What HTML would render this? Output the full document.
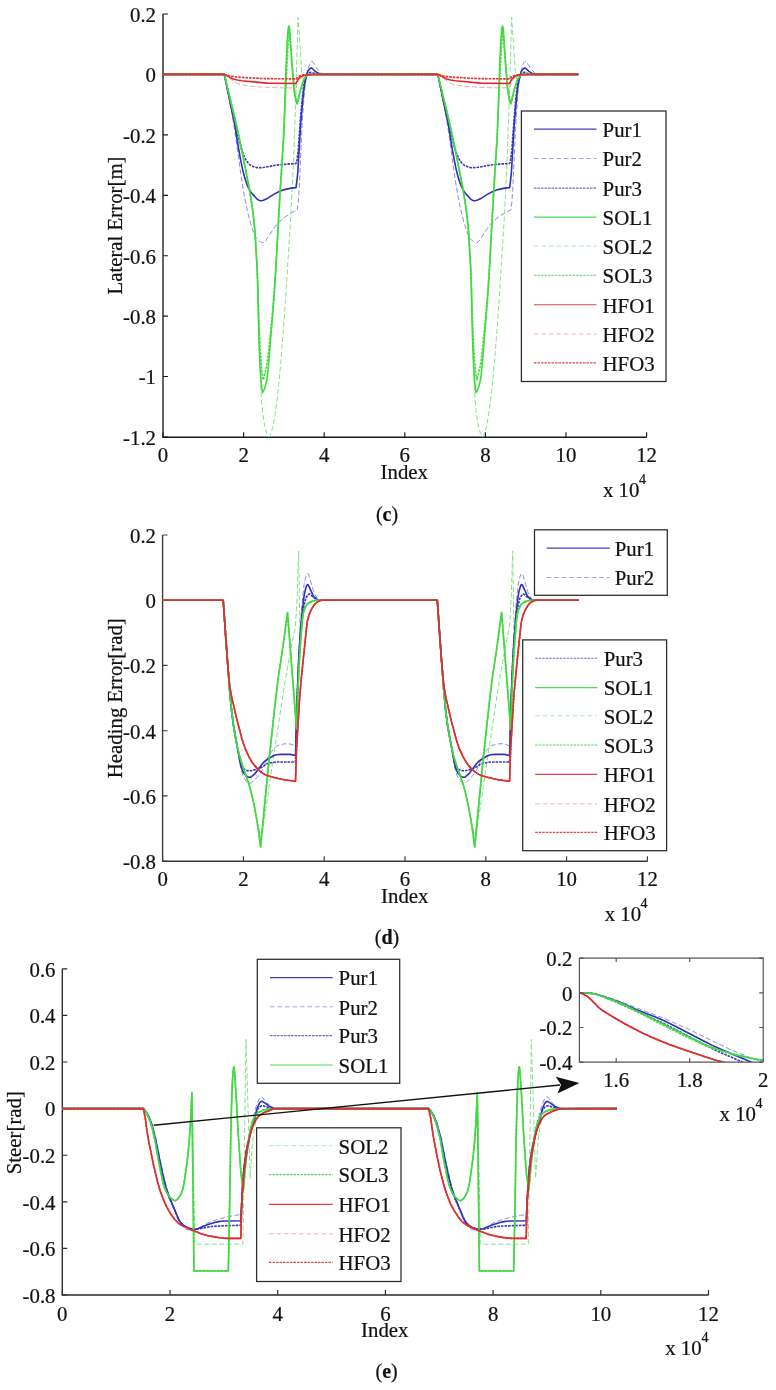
<!DOCTYPE html>
<html><head><meta charset="utf-8"><style>
html,body{margin:0;padding:0;background:#fff;width:776px;height:1390px;overflow:hidden}
svg{display:block;will-change:transform}
text{font-family:"Liberation Serif", serif;fill:#111;stroke:#111;stroke-width:0.22px}
</style></head><body>
<svg width="776" height="1390" viewBox="0 0 776 1390">
<path d="M163 14.0V437.2H646.6" fill="none" stroke="#1a1a1a" stroke-width="1.35"/>
<path d="M163 14.0h5M163 74.4h5M163 134.8h5M163 195.3h5M163 255.7h5M163 316.1h5M163 376.5h5M163 437.0h5M163.0 437.2v-5M243.6 437.2v-5M324.2 437.2v-5M404.8 437.2v-5M485.4 437.2v-5M566.0 437.2v-5M646.6 437.2v-5" fill="none" stroke="#1a1a1a" stroke-width="1.15"/>
<g>
<path d="M163.0 74.4L224.3 74.4L228.4 94.3L232.2 113.9L235.7 136.9L240.1 169.0L242.1 182.9L244.9 199.0L247.5 211.3L250.7 223.7L253.4 232.1L255.2 236.4L256.3 238.3L259.1 240.9L261.2 242.3L262.9 242.7L264.2 242.2L265.7 240.7L274.9 226.7L276.8 224.4L279.5 221.6L283.6 218.1L288.3 214.8L292.9 212.0L297.2 210.1L298.2 202.6L299.1 190.5L301.9 128.4L303.5 103.8L304.8 87.6L305.7 79.2L307.5 71.0L309.5 64.5L310.4 62.5L311.2 61.6L312.0 61.5L313.0 62.2L316.5 67.9L320.4 72.2L322.3 73.8L324.0 74.4L437.8 74.4L442.0 94.3L445.7 113.9L449.3 136.9L453.6 169.0L455.7 182.9L458.5 199.0L461.1 211.3L464.3 223.7L467.0 232.1L468.8 236.4L469.9 238.3L472.7 240.9L474.6 242.2L476.4 242.7L477.7 242.3L479.1 240.9L488.5 226.7L490.4 224.4L493.1 221.6L497.2 218.1L501.8 214.8L506.5 212.0L510.8 210.1L511.8 202.6L512.7 190.5L515.5 128.4L518.2 89.3L519.2 80.3L520.0 75.9L522.1 67.4L523.0 64.5L524.0 62.5L524.7 61.7L525.1 61.4L525.6 61.5L526.3 61.9L527.2 63.1L530.5 68.3L534.8 72.9L536.1 73.9L537.2 74.3L578.3 74.4" fill="none" stroke="#7c80dc" stroke-width="0.9" stroke-dasharray="5 2.5" stroke-linejoin="round"/>
<path d="M163.0 74.4L224.3 74.4L234.6 117.0L239.2 137.8L248.9 186.4L251.5 202.0L253.1 213.6L254.4 225.5L255.2 235.2L257.0 266.1L257.6 283.9L259.1 342.0L260.5 382.7L261.2 395.5L262.6 412.0L264.1 422.6L265.5 428.9L266.8 433.4L267.9 436.1L268.4 436.7L269.0 437.0L270.0 435.6L270.9 433.4L273.2 425.6L274.8 416.6L276.9 401.5L278.8 383.8L281.2 357.8L284.8 310.6L290.3 224.4L293.3 165.7L295.7 99.6L298.0 17.3L300.1 45.4L301.7 71.8L302.0 74.4L302.8 78.0L303.5 79.9L304.0 80.4L304.5 80.3L304.9 79.7L307.0 75.4L307.5 74.7L308.0 74.4L437.8 74.4L448.2 117.0L452.8 137.8L462.5 186.4L465.1 202.0L466.7 213.6L468.0 225.5L468.8 235.2L470.6 266.1L471.2 283.9L472.7 342.0L474.1 382.7L474.8 395.5L476.2 412.0L477.7 422.6L479.1 428.9L480.4 433.4L481.5 436.1L482.0 436.7L482.5 437.0L483.4 435.9L484.4 433.8L486.6 426.3L488.2 417.6L490.3 402.8L492.3 385.4L494.7 359.6L498.4 310.6L503.9 224.4L506.9 165.7L509.3 99.6L511.6 17.3L513.7 45.4L515.3 71.8L515.6 74.4L516.3 77.4L516.9 79.5L517.4 80.3L517.9 80.4L518.4 79.9L520.6 75.4L521.1 74.7L521.6 74.4L578.3 74.4" fill="none" stroke="#88e088" stroke-width="1.0" stroke-dasharray="5 2.5" stroke-linejoin="round"/>
<path d="M163.0 74.4L224.3 74.4L236.5 83.2L238.4 84.0L243.3 85.1L252.0 86.3L264.4 87.2L275.7 87.7L296.0 88.0L297.6 83.6L298.7 81.2L300.3 79.0L302.1 77.1L303.6 76.1L305.5 75.5L308.6 74.7L311.3 74.4L437.8 74.4L450.1 83.2L452.0 84.0L456.9 85.1L465.6 86.3L478.0 87.2L489.3 87.7L509.6 88.0L511.0 84.0L512.2 81.5L514.7 78.0L516.0 76.8L517.2 76.1L521.7 74.8L525.5 74.4L578.3 74.4" fill="none" stroke="#eba0a0" stroke-width="0.9" stroke-dasharray="5 2.5" stroke-linejoin="round"/>
<path d="M163.0 74.4L224.3 74.4L234.6 123.7L238.3 147.0L240.4 158.7L242.5 169.1L244.4 176.6L245.9 181.3L247.3 185.3L248.9 188.7L250.9 191.9L252.5 194.1L256.8 198.8L258.8 200.2L260.5 200.7L262.0 200.6L263.4 200.2L267.9 198.2L273.7 194.4L278.7 191.8L282.3 190.3L284.5 189.6L289.9 188.4L293.1 187.9L296.0 187.7L296.8 181.9L297.8 172.3L300.7 123.9L302.3 105.0L303.7 91.0L304.9 83.2L307.0 73.5L308.1 70.8L309.5 69.0L310.7 68.2L311.5 68.1L312.1 68.3L315.0 71.2L318.2 73.1L320.2 74.0L321.9 74.4L437.8 74.4L448.2 123.7L451.9 147.0L454.0 158.7L456.1 169.1L458.0 176.6L459.4 181.3L460.9 185.3L462.5 188.7L464.4 191.9L466.1 194.1L470.4 198.8L472.3 200.2L474.1 200.7L475.6 200.6L477.0 200.2L481.5 198.2L487.3 194.4L492.3 191.8L495.9 190.3L498.1 189.6L503.5 188.4L506.7 187.9L509.6 187.7L510.4 181.9L511.4 172.3L514.1 126.2L516.8 95.2L518.1 85.1L519.7 76.7L521.0 72.1L521.5 71.0L522.5 69.7L524.1 68.3L524.7 68.1L525.4 68.2L526.2 68.7L528.9 71.4L532.8 73.6L534.1 74.1L535.4 74.4L578.3 74.4" fill="none" stroke="#3030b8" stroke-width="1.6" stroke-linejoin="round"/>
<path d="M163.0 74.4L224.3 74.4L232.8 115.1L240.4 145.4L243.3 154.5L244.6 157.5L246.0 160.0L248.0 162.8L249.7 164.6L251.3 165.6L254.7 167.0L257.1 167.6L259.4 167.8L264.4 167.3L276.6 165.1L287.3 164.1L296.0 163.5L296.5 162.2L297.0 159.9L298.2 150.8L300.7 115.5L302.6 95.3L303.9 84.8L304.7 80.9L306.5 76.7L308.2 73.8L309.2 72.8L310.0 72.4L311.9 72.5L316.3 74.1L318.1 74.4L437.8 74.4L446.4 115.1L454.0 145.4L456.9 154.5L458.2 157.5L459.6 160.0L461.5 162.8L463.3 164.6L464.9 165.6L468.3 167.0L470.7 167.6L472.8 167.8L478.0 167.3L490.2 165.1L500.9 164.1L509.6 163.5L510.1 162.2L510.5 159.9L511.8 150.8L514.3 115.5L516.2 95.3L517.3 85.9L518.1 81.5L518.9 79.2L520.9 75.2L522.6 72.9L523.6 72.4L524.9 72.4L529.9 74.1L531.7 74.4L578.3 74.4" fill="none" stroke="#3838b0" stroke-width="1.6" stroke-dasharray="2.6 1" stroke-linejoin="round"/>
<path d="M163.0 74.4L224.3 74.4L234.7 117.7L239.4 138.6L249.1 187.3L251.7 203.0L253.3 215.0L254.4 225.5L255.2 235.2L257.0 266.1L257.6 283.9L258.9 337.4L259.9 363.8L261.0 380.4L261.8 388.2L262.5 392.6L263.2 391.7L264.0 390.0L265.4 385.9L266.6 381.1L267.5 375.2L268.5 365.4L274.1 296.5L275.9 267.9L279.8 196.6L283.5 138.4L284.3 119.4L285.8 73.4L287.4 38.2L288.2 28.5L288.8 26.1L289.0 26.1L289.1 26.4L289.6 28.6L290.1 33.5L291.9 64.1L293.8 88.2L294.5 93.0L295.7 100.1L296.6 103.1L297.2 104.0L300.9 88.7L303.3 81.2L304.5 78.7L305.6 77.1L307.2 75.2L308.5 74.5L437.8 74.4L448.3 117.7L453.0 138.6L462.7 187.3L465.2 203.0L466.9 215.0L468.0 225.5L468.8 235.2L470.6 266.1L471.2 283.9L472.5 337.4L473.5 363.8L474.6 380.4L475.4 388.2L476.1 392.6L476.8 391.7L477.6 390.0L479.0 385.9L480.2 381.1L481.1 375.2L482.1 365.4L487.7 296.5L489.5 267.9L493.4 196.6L496.9 141.5L497.7 124.0L499.8 62.1L501.0 38.2L501.6 29.9L502.1 27.0L502.4 26.1L502.6 26.1L502.7 26.4L503.2 28.6L503.5 31.6L505.5 64.1L507.4 88.2L509.2 99.4L510.0 102.6L510.6 103.9L510.8 104.0L514.7 88.1L516.9 81.2L517.7 79.3L518.5 77.9L520.3 75.7L521.8 74.6L522.6 74.4L578.3 74.4" fill="none" stroke="#3ddc3d" stroke-width="1.6" stroke-linejoin="round"/>
<path d="M163.0 74.4L224.3 74.4L234.4 116.3L239.1 137.0L248.9 186.4L251.2 199.9L252.8 211.1L254.1 222.2L254.9 231.1L257.1 267.7L257.8 282.0L258.9 322.2L260.4 352.9L261.8 370.9L262.6 376.7L263.3 379.9L266.4 366.9L267.4 361.4L268.3 354.4L271.7 321.7L274.3 290.9L276.1 263.2L280.0 194.3L283.7 135.5L286.6 71.3L288.9 29.1L291.8 60.2L294.3 88.7L294.7 92.3L296.2 99.6L297.0 102.1L297.6 102.8L300.3 90.6L303.4 81.0L304.5 78.5L305.8 76.7L307.3 75.2L308.6 74.4L437.8 74.4L448.0 116.3L452.7 137.0L462.5 186.4L464.8 199.9L466.4 211.1L467.7 222.2L468.5 231.1L470.7 267.7L471.4 282.0L472.5 322.2L474.0 352.9L475.4 370.9L476.2 376.7L476.9 379.9L480.0 366.9L481.0 361.4L481.9 354.4L485.3 321.7L487.9 290.9L489.7 263.2L493.5 194.3L497.2 135.5L500.1 71.3L502.5 29.1L505.4 60.2L507.8 88.7L508.3 92.3L509.6 98.9L510.4 101.7L511.1 102.8L511.2 102.8L514.1 90.0L517.0 81.0L518.0 78.8L518.9 77.4L520.5 75.5L521.8 74.5L522.5 74.4L578.3 74.4" fill="none" stroke="#45d845" stroke-width="1.6" stroke-dasharray="2.6 1" stroke-linejoin="round"/>
<path d="M163.0 74.4L224.3 74.4L230.2 77.6L233.1 78.9L237.2 80.0L241.7 80.8L267.0 83.1L296.0 83.5L298.1 79.3L299.5 77.8L301.0 76.7L303.1 75.8L305.8 75.0L307.6 74.7L310.8 74.6L323.4 74.4L437.8 74.4L443.8 77.6L446.7 78.9L450.7 80.0L455.3 80.8L480.6 83.1L509.6 83.5L511.5 79.6L513.6 77.4L514.9 76.5L516.2 76.0L518.4 75.2L520.5 74.8L534.4 74.4L578.3 74.4" fill="none" stroke="#e02828" stroke-width="1.6" stroke-linejoin="round"/>
<path d="M163.0 74.4L224.3 74.4L229.3 75.8L233.9 76.6L238.3 77.1L248.4 77.8L265.7 78.6L296.0 78.9L298.7 76.5L302.4 75.0L304.0 74.7L312.8 74.5L437.8 74.4L442.8 75.8L447.5 76.6L451.9 77.1L462.0 77.8L479.3 78.6L509.6 78.9L511.4 77.2L512.6 76.3L515.4 75.1L517.5 74.7L533.3 74.4L578.3 74.4" fill="none" stroke="#dc3434" stroke-width="1.6" stroke-dasharray="2.6 1" stroke-linejoin="round"/>
</g>
<text x="156.0" y="21.8" font-size="20.8" text-anchor="end" font-weight="normal">0.2</text>
<text x="156.0" y="82.2" font-size="20.8" text-anchor="end" font-weight="normal">0</text>
<text x="156.0" y="142.6" font-size="20.8" text-anchor="end" font-weight="normal">-0.2</text>
<text x="156.0" y="203.1" font-size="20.8" text-anchor="end" font-weight="normal">-0.4</text>
<text x="156.0" y="263.5" font-size="20.8" text-anchor="end" font-weight="normal">-0.6</text>
<text x="156.0" y="323.9" font-size="20.8" text-anchor="end" font-weight="normal">-0.8</text>
<text x="156.0" y="384.3" font-size="20.8" text-anchor="end" font-weight="normal">-1</text>
<text x="156.0" y="444.8" font-size="20.8" text-anchor="end" font-weight="normal">-1.2</text>
<text x="163.0" y="462.0" font-size="20.8" text-anchor="middle" font-weight="normal">0</text>
<text x="243.6" y="462.0" font-size="20.8" text-anchor="middle" font-weight="normal">2</text>
<text x="324.2" y="462.0" font-size="20.8" text-anchor="middle" font-weight="normal">4</text>
<text x="404.8" y="462.0" font-size="20.8" text-anchor="middle" font-weight="normal">6</text>
<text x="485.4" y="462.0" font-size="20.8" text-anchor="middle" font-weight="normal">8</text>
<text x="566.0" y="462.0" font-size="20.8" text-anchor="middle" font-weight="normal">10</text>
<text x="646.6" y="462.0" font-size="20.8" text-anchor="middle" font-weight="normal">12</text>
<text x="404.3" y="479.0" font-size="20.8" text-anchor="middle" font-weight="normal">Index</text>
<text x="603.0" y="497.0" font-size="20.8" text-anchor="start" font-weight="normal">x 10</text>
<text x="639.0" y="484.0" font-size="14" text-anchor="start" font-weight="normal">4</text>
<text x="122" y="225.5" font-size="20.8" text-anchor="middle" transform="rotate(-90 122 225.5)">Lateral Error[m]</text>
<text x="387.0" y="521.0" font-size="20" text-anchor="middle" font-weight="normal">(<tspan font-weight="bold">c</tspan>)</text>
<rect x="521.4" y="111" width="144.60000000000002" height="270.5" fill="#fff" stroke="#2a2a2a" stroke-width="1.25"/>
<path d="M534 129.1H596.5" fill="none" stroke="#4040b8" stroke-width="1.1" stroke-linejoin="round"/>
<text x="602.6" y="136.9" font-size="20.8" text-anchor="start" font-weight="normal">Pur1</text>
<path d="M534 158.5H596.5" fill="none" stroke="#a0a4ea" stroke-width="1.0" stroke-dasharray="4.5 3" stroke-linejoin="round"/>
<text x="602.6" y="166.3" font-size="20.8" text-anchor="start" font-weight="normal">Pur2</text>
<path d="M534 188.1H596.5" fill="none" stroke="#6a6ad0" stroke-width="1.1" stroke-dasharray="2.5 1" stroke-linejoin="round"/>
<text x="602.6" y="195.9" font-size="20.8" text-anchor="start" font-weight="normal">Pur3</text>
<path d="M534 217.2H596.5" fill="none" stroke="#4cdc4c" stroke-width="1.2" stroke-linejoin="round"/>
<text x="602.6" y="225.0" font-size="20.8" text-anchor="start" font-weight="normal">SOL1</text>
<path d="M534 246.1H596.5" fill="none" stroke="#b0ecb0" stroke-width="1.0" stroke-dasharray="4.5 3" stroke-linejoin="round"/>
<text x="602.6" y="253.9" font-size="20.8" text-anchor="start" font-weight="normal">SOL2</text>
<path d="M534 275.2H596.5" fill="none" stroke="#58d858" stroke-width="1.1" stroke-dasharray="2.5 1" stroke-linejoin="round"/>
<text x="602.6" y="283.0" font-size="20.8" text-anchor="start" font-weight="normal">SOL3</text>
<path d="M534 304.8H596.5" fill="none" stroke="#e04444" stroke-width="1.1" stroke-linejoin="round"/>
<text x="602.6" y="312.6" font-size="20.8" text-anchor="start" font-weight="normal">HFO1</text>
<path d="M534 334H596.5" fill="none" stroke="#f0b4b4" stroke-width="1.0" stroke-dasharray="4.5 3" stroke-linejoin="round"/>
<text x="602.6" y="341.8" font-size="20.8" text-anchor="start" font-weight="normal">HFO2</text>
<path d="M534 362.9H596.5" fill="none" stroke="#e04848" stroke-width="1.1" stroke-dasharray="2.5 1" stroke-linejoin="round"/>
<text x="602.6" y="370.7" font-size="20.8" text-anchor="start" font-weight="normal">HFO3</text>
<path d="M162.6 535.0V861.2H647.5" fill="none" stroke="#3a3a3a" stroke-width="1.35"/>
<path d="M162.6 535.0h5M162.6 600.2h5M162.6 665.4h5M162.6 730.7h5M162.6 795.9h5M162.6 861.2h5M162.6 861.2v-5M243.4 861.2v-5M324.2 861.2v-5M405.0 861.2v-5M485.8 861.2v-5M566.6 861.2v-5M647.4 861.2v-5" fill="none" stroke="#3a3a3a" stroke-width="1.15"/>
<g>
<path d="M162.6 600.2L223.2 600.2L225.8 638.3L229.7 690.6L231.4 709.2L233.2 723.7L234.5 731.6L237.7 748.9L240.2 765.7L241.5 771.0L243.2 776.4L244.9 779.6L246.1 781.0L247.8 782.3L249.1 783.0L250.2 783.2L251.3 782.9L252.4 782.0L258.6 775.6L260.7 773.0L263.0 768.9L267.3 758.9L269.1 755.4L273.1 749.6L276.0 746.5L277.7 745.5L280.2 744.7L283.6 744.0L286.9 743.7L288.8 743.8L290.9 744.2L293.2 745.0L295.5 746.0L296.6 705.6L297.8 675.5L299.2 645.3L300.8 619.2L302.1 602.7L304.1 584.7L304.7 581.0L305.7 577.4L306.7 574.8L307.5 573.6L307.8 573.5L308.1 573.6L308.8 575.0L313.1 589.9L314.3 593.2L317.2 598.5L318.1 599.6L319.1 600.2L437.3 600.2L439.9 638.3L443.8 690.6L445.6 709.2L447.3 723.7L448.6 731.6L451.9 748.9L454.3 765.7L455.4 770.4L457.2 775.9L459.0 779.6L461.7 782.2L463.0 782.9L464.1 783.2L465.3 783.0L466.6 782.0L472.7 775.6L474.8 773.0L477.1 768.9L481.4 758.9L483.2 755.4L487.3 749.6L490.2 746.5L491.8 745.5L494.4 744.7L497.8 744.0L501.0 743.7L502.9 743.8L505.0 744.2L507.3 745.0L509.6 746.0L510.8 705.6L511.7 679.3L513.0 651.4L514.6 623.9L516.1 604.5L518.0 585.9L519.0 580.3L520.1 576.4L521.1 574.1L521.6 573.6L521.9 573.5L522.6 574.2L528.2 592.8L531.0 598.0L531.9 599.3L532.9 600.1L533.6 600.2L578.7 600.2" fill="none" stroke="#7c80dc" stroke-width="0.9" stroke-dasharray="5 2.5" stroke-linejoin="round"/>
<path d="M162.6 600.2L223.2 600.2L225.8 638.3L229.8 692.6L231.9 713.6L234.2 730.1L236.3 741.9L238.7 752.9L241.1 761.5L247.8 780.5L250.3 789.2L253.7 803.5L257.3 822.7L259.6 831.9L261.6 838.3L271.4 771.1L284.5 684.9L289.9 654.0L293.3 636.8L295.0 629.4L295.9 618.4L297.2 596.0L298.6 550.9L300.0 639.3L301.6 622.4L302.4 617.8L303.7 612.6L305.1 608.5L307.1 605.0L309.5 601.7L310.5 600.8L311.4 600.3L437.3 600.2L439.9 638.3L443.9 692.6L446.0 713.6L448.3 730.1L450.4 741.9L452.8 752.9L455.3 761.5L461.9 780.5L464.5 789.2L467.9 803.5L471.4 822.7L473.7 831.9L475.7 838.3L485.6 771.1L498.6 684.9L504.0 654.0L507.4 636.8L509.1 629.4L510.0 618.4L511.3 596.0L512.7 550.9L514.1 639.3L515.7 622.4L516.5 617.8L517.6 613.1L518.8 609.6L520.1 606.9L522.8 602.6L523.9 601.4L524.9 600.6L526.2 600.2L578.7 600.2" fill="none" stroke="#88e088" stroke-width="1.0" stroke-dasharray="5 2.5" stroke-linejoin="round"/>
<path d="M162.6 600.2L223.2 600.2L227.4 660.6L229.0 678.8L230.1 688.5L231.6 696.6L236.8 719.2L241.8 738.2L243.6 744.1L245.0 748.1L248.9 756.7L250.8 760.2L252.8 763.3L254.9 765.9L257.8 769.1L260.2 771.3L262.6 773.1L264.7 774.4L267.8 775.7L275.1 777.8L284.1 779.7L295.5 781.2L296.5 750.0L299.6 698.1L301.2 679.4L306.8 625.1L307.3 621.5L308.0 618.5L309.1 614.7L310.2 611.9L312.3 607.9L314.3 604.8L315.6 603.3L317.2 602.1L319.9 600.7L322.2 600.2L437.3 600.2L441.5 660.6L443.1 678.8L444.3 688.5L445.7 696.6L450.9 719.2L455.9 738.2L457.7 744.1L459.1 748.1L463.0 756.7L465.0 760.2L466.9 763.3L469.0 765.9L471.9 769.1L474.3 771.3L476.8 773.1L478.9 774.4L481.9 775.7L489.2 777.8L498.2 779.7L509.6 781.2L510.6 750.0L513.4 703.0L514.2 691.8L516.9 663.3L520.9 625.1L521.8 619.8L523.5 613.8L525.8 609.1L527.6 606.0L529.0 604.0L530.0 603.0L531.9 601.7L533.6 600.9L535.0 600.4L536.3 600.2L578.7 600.2" fill="none" stroke="#eba0a0" stroke-width="0.9" stroke-dasharray="5 2.5" stroke-linejoin="round"/>
<path d="M162.6 600.2L223.2 600.2L225.8 638.3L229.7 690.6L231.6 710.7L233.4 724.8L239.8 761.2L241.5 767.5L242.9 771.5L244.0 773.5L245.7 775.2L247.1 776.4L248.4 777.1L249.7 777.3L250.7 777.1L251.6 776.6L254.7 773.9L262.0 764.2L263.9 762.0L267.2 759.5L273.5 755.8L274.9 755.2L276.4 754.8L281.1 754.4L285.3 754.2L290.1 754.4L295.5 755.5L296.6 712.7L297.5 689.6L298.7 660.5L300.2 635.7L301.8 615.6L303.9 597.1L304.6 593.1L305.7 588.5L306.5 585.9L307.3 584.6L307.6 584.6L308.0 584.8L308.6 585.7L312.8 594.9L313.8 596.6L316.7 599.2L317.8 599.8L318.9 600.2L437.3 600.2L439.9 638.3L443.8 690.6L445.7 710.7L447.5 724.8L454.0 761.2L455.4 767.0L456.9 771.1L458.2 773.5L459.8 775.2L461.2 776.4L462.5 777.1L463.7 777.3L464.6 777.2L465.6 776.7L468.8 773.9L476.1 764.2L478.0 762.0L481.3 759.5L487.6 755.8L489.0 755.2L490.5 754.8L495.2 754.4L499.4 754.2L504.2 754.4L509.6 755.5L511.4 693.8L512.7 663.8L514.2 638.1L515.8 617.3L517.7 599.5L518.8 592.4L520.1 587.4L521.1 584.9L521.4 584.6L521.8 584.6L522.6 585.4L526.9 594.9L527.9 596.6L530.5 598.9L532.6 600.1L533.6 600.2L578.7 600.2" fill="none" stroke="#3030b8" stroke-width="1.6" stroke-linejoin="round"/>
<path d="M162.6 600.2L223.2 600.2L225.8 638.3L229.7 690.6L231.6 710.7L233.4 724.8L235.8 739.0L239.4 757.3L240.5 762.1L242.3 766.5L243.7 768.8L246.3 770.3L247.6 770.7L248.7 770.8L250.8 770.7L253.1 770.2L259.2 768.4L261.2 767.5L266.8 763.9L268.3 763.3L271.2 762.7L274.4 762.2L277.3 762.0L295.5 762.0L296.5 719.9L297.3 693.6L298.7 659.2L300.0 638.3L302.0 618.3L302.9 611.4L304.1 605.2L305.1 600.8L306.0 597.7L307.5 595.4L308.8 594.2L309.4 594.0L310.1 594.2L312.6 596.8L315.2 598.5L317.3 599.7L319.1 600.2L437.3 600.2L439.9 638.3L443.8 690.6L445.7 710.7L447.5 724.8L449.9 739.0L453.5 757.3L454.6 762.1L456.4 766.5L457.8 768.8L460.4 770.3L462.7 770.8L464.8 770.7L467.1 770.3L473.4 768.4L475.3 767.5L481.0 763.9L482.4 763.3L485.3 762.7L488.5 762.2L491.5 762.0L509.6 762.0L511.3 698.1L512.5 665.9L513.8 642.6L515.3 625.6L516.9 612.4L519.2 600.8L520.1 597.7L521.1 596.1L522.6 594.4L523.2 594.0L523.9 594.1L524.7 594.6L526.8 596.8L529.5 598.6L531.6 599.8L533.2 600.2L578.7 600.2" fill="none" stroke="#3838b0" stroke-width="1.6" stroke-dasharray="2.6 1" stroke-linejoin="round"/>
<path d="M162.6 600.2L223.2 600.2L225.8 638.3L229.8 692.6L231.8 712.2L233.7 727.0L236.3 741.9L239.2 754.8L241.5 762.5L248.9 784.1L250.8 791.0L252.8 799.1L254.9 809.2L257.0 821.0L258.8 832.8L260.6 846.8L268.4 765.8L275.2 702.8L278.2 678.0L282.9 647.0L287.5 612.6L296.6 729.0L297.9 692.1L299.0 667.6L300.3 645.4L301.8 626.9L302.7 617.0L303.6 612.1L305.5 606.8L306.5 605.1L307.4 603.9L309.7 602.5L312.6 601.2L315.2 600.5L317.8 600.2L437.3 600.2L439.9 638.3L443.9 692.6L445.9 712.2L447.8 727.0L450.4 741.9L453.3 754.8L455.6 762.5L463.0 784.1L465.0 791.0L466.9 799.1L469.0 809.2L471.1 821.0L472.9 832.8L474.7 846.8L482.5 765.8L489.3 702.8L492.3 678.0L497.0 647.0L501.6 612.6L510.7 729.0L512.5 680.9L513.6 658.5L514.8 640.9L516.2 623.3L517.2 614.6L518.2 610.5L519.9 606.2L521.4 604.1L523.5 602.7L527.2 601.1L530.8 600.3L578.7 600.2" fill="none" stroke="#3ddc3d" stroke-width="1.6" stroke-linejoin="round"/>
<path d="M162.6 600.2L223.2 600.2L225.8 638.3L229.8 692.6L231.8 712.2L233.7 727.0L236.3 741.9L239.2 754.8L241.5 762.5L248.9 784.1L250.8 791.0L252.8 799.1L254.9 809.2L257.0 821.0L258.8 832.8L260.6 846.8L268.4 765.8L275.2 702.8L278.2 678.0L282.9 647.0L287.5 612.6L296.6 729.0L297.9 692.1L299.0 667.6L300.3 645.4L301.8 626.9L302.7 617.0L303.6 612.1L305.5 606.8L306.5 605.1L307.4 603.9L309.7 602.5L312.6 601.2L315.2 600.5L317.8 600.2L437.3 600.2L439.9 638.3L443.9 692.6L445.9 712.2L447.8 727.0L450.4 741.9L453.3 754.8L455.6 762.5L463.0 784.1L465.0 791.0L466.9 799.1L469.0 809.2L471.1 821.0L472.9 832.8L474.7 846.8L482.5 765.8L489.3 702.8L492.3 678.0L497.0 647.0L501.6 612.6L510.7 729.0L512.5 680.9L513.6 658.5L514.8 640.9L516.2 623.3L517.2 614.6L518.2 610.5L519.9 606.2L521.4 604.1L523.5 602.7L527.2 601.1L530.8 600.3L578.7 600.2" fill="none" stroke="#45d845" stroke-width="1.6" stroke-dasharray="2.6 1" stroke-linejoin="round"/>
<path d="M162.6 600.2L223.2 600.2L227.4 660.6L229.0 678.8L230.1 688.5L231.6 696.6L236.8 719.2L241.8 738.2L243.6 744.1L245.0 748.1L248.9 756.7L250.8 760.2L252.8 763.3L254.9 765.9L257.8 769.1L260.2 771.3L262.6 773.1L264.7 774.4L267.8 775.7L275.1 777.8L284.1 779.7L295.5 781.2L296.5 750.0L299.6 698.1L301.2 679.4L306.8 625.1L307.3 621.5L308.0 618.5L309.1 614.7L310.2 611.9L312.3 607.9L314.3 604.8L315.6 603.3L317.2 602.1L319.9 600.7L322.2 600.2L437.3 600.2L441.5 660.6L443.1 678.8L444.3 688.5L445.7 696.6L450.9 719.2L455.9 738.2L457.7 744.1L459.1 748.1L463.0 756.7L465.0 760.2L466.9 763.3L469.0 765.9L471.9 769.1L474.3 771.3L476.8 773.1L478.9 774.4L481.9 775.7L489.2 777.8L498.2 779.7L509.6 781.2L510.6 750.0L513.4 703.0L514.2 691.8L516.9 663.3L520.9 625.1L521.8 619.8L523.5 613.8L525.8 609.1L527.6 606.0L529.0 604.0L530.0 603.0L531.9 601.7L533.6 600.9L535.0 600.4L536.3 600.2L578.7 600.2" fill="none" stroke="#e02828" stroke-width="1.6" stroke-linejoin="round"/>
<path d="M162.6 600.2L223.2 600.2L227.4 660.6L229.0 678.8L230.1 688.5L231.6 696.6L236.8 719.2L241.8 738.2L243.6 744.1L245.0 748.1L248.9 756.7L250.8 760.2L252.8 763.3L254.9 765.9L257.8 769.1L260.2 771.3L262.6 773.1L264.7 774.4L267.8 775.7L275.1 777.8L284.1 779.7L295.5 781.2L296.5 750.0L299.6 698.1L301.2 679.4L306.8 625.1L307.3 621.5L308.0 618.5L309.1 614.7L310.2 611.9L312.3 607.9L314.3 604.8L315.6 603.3L317.2 602.1L319.9 600.7L322.2 600.2L437.3 600.2L441.5 660.6L443.1 678.8L444.3 688.5L445.7 696.6L450.9 719.2L455.9 738.2L457.7 744.1L459.1 748.1L463.0 756.7L465.0 760.2L466.9 763.3L469.0 765.9L471.9 769.1L474.3 771.3L476.8 773.1L478.9 774.4L481.9 775.7L489.2 777.8L498.2 779.7L509.6 781.2L510.6 750.0L513.4 703.0L514.2 691.8L516.9 663.3L520.9 625.1L521.8 619.8L523.5 613.8L525.8 609.1L527.6 606.0L529.0 604.0L530.0 603.0L531.9 601.7L533.6 600.9L535.0 600.4L536.3 600.2L578.7 600.2" fill="none" stroke="#dc3434" stroke-width="1.6" stroke-dasharray="2.6 1" stroke-linejoin="round"/>
</g>
<text x="156.0" y="542.8" font-size="20.8" text-anchor="end" font-weight="normal">0.2</text>
<text x="156.0" y="608.0" font-size="20.8" text-anchor="end" font-weight="normal">0</text>
<text x="156.0" y="673.2" font-size="20.8" text-anchor="end" font-weight="normal">-0.2</text>
<text x="156.0" y="738.5" font-size="20.8" text-anchor="end" font-weight="normal">-0.4</text>
<text x="156.0" y="803.7" font-size="20.8" text-anchor="end" font-weight="normal">-0.6</text>
<text x="156.0" y="869.0" font-size="20.8" text-anchor="end" font-weight="normal">-0.8</text>
<text x="162.6" y="886.0" font-size="20.8" text-anchor="middle" font-weight="normal">0</text>
<text x="243.4" y="886.0" font-size="20.8" text-anchor="middle" font-weight="normal">2</text>
<text x="324.2" y="886.0" font-size="20.8" text-anchor="middle" font-weight="normal">4</text>
<text x="405.0" y="886.0" font-size="20.8" text-anchor="middle" font-weight="normal">6</text>
<text x="485.8" y="886.0" font-size="20.8" text-anchor="middle" font-weight="normal">8</text>
<text x="566.6" y="886.0" font-size="20.8" text-anchor="middle" font-weight="normal">10</text>
<text x="647.4" y="886.0" font-size="20.8" text-anchor="middle" font-weight="normal">12</text>
<text x="404.8" y="903.0" font-size="20.8" text-anchor="middle" font-weight="normal">Index</text>
<text x="604.7" y="921.2" font-size="20.8" text-anchor="start" font-weight="normal">x 10</text>
<text x="640.5" y="908.2" font-size="14" text-anchor="start" font-weight="normal">4</text>
<text x="122.5" y="698.2" font-size="20.8" text-anchor="middle" transform="rotate(-90 122.5 698.2)">Heading Error[rad]</text>
<text x="387.0" y="944.0" font-size="20" text-anchor="middle" font-weight="normal">(<tspan font-weight="bold">d</tspan>)</text>
<rect x="534.5" y="529.8" width="132.79999999999995" height="65.5" fill="#fff" stroke="#2a2a2a" stroke-width="1.25"/>
<path d="M546.7 548.1H609.8" fill="none" stroke="#4040b8" stroke-width="1.1" stroke-linejoin="round"/>
<text x="614.8" y="555.9" font-size="20.8" text-anchor="start" font-weight="normal">Pur1</text>
<path d="M546.7 577.5H609.8" fill="none" stroke="#a0a4ea" stroke-width="1.0" stroke-dasharray="4.5 3" stroke-linejoin="round"/>
<text x="614.8" y="585.3" font-size="20.8" text-anchor="start" font-weight="normal">Pur2</text>
<rect x="522.7" y="639.9" width="143.89999999999998" height="210.80000000000007" fill="#fff" stroke="#2a2a2a" stroke-width="1.25"/>
<path d="M535.2 658.2H597.3" fill="none" stroke="#6a6ad0" stroke-width="1.1" stroke-dasharray="2.5 1" stroke-linejoin="round"/>
<text x="603.7" y="666.0" font-size="20.8" text-anchor="start" font-weight="normal">Pur3</text>
<path d="M535.2 687.6H597.3" fill="none" stroke="#4cdc4c" stroke-width="1.2" stroke-linejoin="round"/>
<text x="603.7" y="695.4" font-size="20.8" text-anchor="start" font-weight="normal">SOL1</text>
<path d="M535.2 715.7H597.3" fill="none" stroke="#b0ecb0" stroke-width="1.0" stroke-dasharray="4.5 3" stroke-linejoin="round"/>
<text x="603.7" y="723.5" font-size="20.8" text-anchor="start" font-weight="normal">SOL2</text>
<path d="M535.2 745H597.3" fill="none" stroke="#58d858" stroke-width="1.1" stroke-dasharray="2.5 1" stroke-linejoin="round"/>
<text x="603.7" y="752.8" font-size="20.8" text-anchor="start" font-weight="normal">SOL3</text>
<path d="M535.2 774.4H597.3" fill="none" stroke="#e04444" stroke-width="1.1" stroke-linejoin="round"/>
<text x="603.7" y="782.2" font-size="20.8" text-anchor="start" font-weight="normal">HFO1</text>
<path d="M535.2 803.8H597.3" fill="none" stroke="#f0b4b4" stroke-width="1.0" stroke-dasharray="4.5 3" stroke-linejoin="round"/>
<text x="603.7" y="811.6" font-size="20.8" text-anchor="start" font-weight="normal">HFO2</text>
<path d="M535.2 832.4H597.3" fill="none" stroke="#e04848" stroke-width="1.1" stroke-dasharray="2.5 1" stroke-linejoin="round"/>
<text x="603.7" y="840.2" font-size="20.8" text-anchor="start" font-weight="normal">HFO3</text>
<clipPath id="cpe"><rect x="62" y="900" width="700" height="400"/></clipPath>
<path d="M62.3 968.8V1295.0H708.5" fill="none" stroke="#2a2a2a" stroke-width="1.35"/>
<path d="M62.3 968.8h5M62.3 1015.4h5M62.3 1062.0h5M62.3 1108.6h5M62.3 1155.2h5M62.3 1201.8h5M62.3 1248.4h5M62.3 1295.0h5M62.3 1295.0v-5M170.0 1295.0v-5M277.7 1295.0v-5M385.4 1295.0v-5M493.1 1295.0v-5M600.8 1295.0v-5M708.5 1295.0v-5" fill="none" stroke="#2a2a2a" stroke-width="1.15"/>
<g>
<path d="M62.3 1108.6L143.3 1108.6L144.2 1109.3L146.6 1112.4L149.6 1118.1L151.3 1122.1L153.3 1128.2L156.3 1139.7L160.6 1161.8L164.7 1180.0L167.0 1189.0L170.3 1198.9L177.6 1218.4L179.7 1223.2L181.0 1225.1L184.1 1228.1L185.8 1229.3L187.5 1229.8L194.6 1229.8L196.3 1229.5L199.6 1228.0L207.3 1223.2L215.7 1220.0L221.1 1218.4L228.6 1216.6L235.1 1215.4L240.8 1214.6L242.8 1176.4L244.3 1161.6L246.2 1148.1L249.9 1129.9L256.1 1106.4L257.0 1103.9L259.1 1099.1L260.2 1097.4L261.1 1096.7L261.7 1096.8L262.6 1097.4L266.2 1102.4L270.1 1105.6L273.3 1107.8L274.6 1108.3L275.9 1108.6L428.7 1108.6L429.8 1109.5L430.9 1110.8L433.5 1115.0L436.1 1120.4L438.2 1126.7L441.7 1139.7L446.2 1162.8L450.3 1180.9L452.9 1190.4L456.1 1200.1L463.0 1218.4L465.2 1223.2L466.4 1225.1L469.5 1228.1L471.2 1229.3L472.9 1229.8L480.0 1229.8L481.7 1229.5L485.0 1228.0L492.7 1223.2L501.1 1220.0L506.5 1218.4L514.0 1216.6L520.5 1215.4L526.2 1214.6L528.2 1176.4L529.7 1161.6L531.6 1148.1L535.3 1129.9L541.3 1107.2L542.2 1104.5L544.1 1100.0L545.2 1098.0L546.0 1097.0L546.9 1096.7L547.8 1097.2L548.8 1098.4L551.6 1102.4L555.7 1105.8L558.5 1107.7L560.9 1108.5L617.0 1108.6" fill="none" stroke="#7c80dc" stroke-width="0.9" stroke-dasharray="5 2.5" stroke-linejoin="round"/>
<path d="M62.3 1108.6L143.3 1108.6L144.4 1109.7L145.5 1111.2L147.9 1115.9L150.0 1121.1L152.0 1127.5L155.0 1140.4L158.6 1161.3L161.9 1177.6L163.2 1183.4L164.5 1187.9L166.6 1192.5L169.2 1196.3L170.7 1197.9L172.9 1199.7L173.9 1200.4L175.0 1200.6L176.3 1200.2L177.8 1198.9L179.3 1196.8L180.8 1194.2L181.9 1192.0L182.5 1190.2L184.1 1183.1L186.6 1165.7L187.9 1154.5L190.3 1128.9L192.3 1101.6L195.0 1244.2L242.9 1244.2L246.0 1039.4L250.2 1178.5L251.5 1156.4L252.6 1142.0L253.9 1131.6L255.4 1123.2L256.7 1118.6L258.0 1115.9L259.3 1113.8L260.4 1112.5L261.7 1111.3L264.9 1109.8L267.7 1108.9L270.3 1108.6L428.7 1108.6L429.8 1109.7L430.9 1111.2L433.3 1115.9L435.4 1121.1L437.4 1127.5L440.4 1140.4L444.0 1161.3L447.3 1177.6L448.6 1183.4L449.9 1187.9L452.2 1192.8L453.5 1194.9L455.0 1196.8L456.3 1198.1L458.9 1200.2L460.0 1200.6L461.1 1200.5L462.4 1199.7L463.9 1198.1L465.6 1195.4L467.3 1192.0L468.4 1188.5L469.7 1181.8L472.0 1165.7L473.6 1152.4L475.7 1128.9L477.8 1101.6L480.4 1244.2L528.3 1244.2L531.4 1039.4L535.6 1178.5L537.8 1144.5L538.4 1137.8L539.7 1128.9L541.0 1122.2L542.1 1118.6L544.3 1114.5L546.4 1111.9L547.7 1111.0L550.7 1109.6L553.1 1108.9L555.2 1108.6L617.0 1108.6" fill="none" stroke="#88e088" stroke-width="1.0" stroke-dasharray="5 2.5" stroke-linejoin="round"/>
<path d="M62.3 1108.6L143.3 1108.6L145.3 1118.2L147.0 1131.2L148.9 1142.2L153.5 1164.9L157.6 1182.0L160.1 1190.7L164.0 1201.1L167.0 1207.6L171.3 1214.8L174.8 1219.5L178.0 1222.8L180.4 1224.5L183.2 1226.1L189.4 1229.1L200.6 1233.5L207.5 1235.6L219.8 1237.8L224.3 1238.2L228.4 1238.4L240.8 1238.4L241.7 1205.0L242.8 1187.1L244.0 1171.7L245.6 1159.4L247.7 1146.3L249.9 1135.9L252.0 1128.3L253.5 1124.5L255.5 1120.6L257.2 1117.9L258.9 1115.9L261.1 1114.3L263.6 1112.8L272.5 1109.3L274.6 1108.8L276.4 1108.6L428.7 1108.6L430.7 1118.2L433.3 1136.4L436.9 1155.4L439.7 1168.7L443.6 1184.3L446.8 1194.4L450.7 1204.1L454.2 1210.6L458.9 1217.8L461.1 1220.5L463.0 1222.4L465.6 1224.3L468.8 1226.3L475.9 1229.5L484.5 1232.9L489.7 1234.7L495.1 1236.1L502.6 1237.4L507.8 1238.1L512.8 1238.4L526.2 1238.4L526.9 1210.2L527.3 1200.9L528.8 1178.7L530.5 1162.5L533.3 1145.2L535.9 1133.3L537.2 1128.9L538.5 1125.5L540.4 1121.4L542.4 1118.2L544.5 1115.7L546.5 1114.3L548.4 1113.2L551.2 1111.9L557.0 1109.6L560.7 1108.7L617.0 1108.6" fill="none" stroke="#eba0a0" stroke-width="0.9" stroke-dasharray="5 2.5" stroke-linejoin="round"/>
<path d="M62.3 1108.6L143.3 1108.6L144.0 1109.1L145.7 1111.2L147.7 1114.6L150.0 1119.6L151.5 1123.8L155.4 1138.4L160.4 1163.3L163.6 1177.9L165.7 1186.4L167.3 1191.3L169.2 1196.6L177.4 1216.3L179.1 1220.0L180.4 1222.2L181.9 1223.9L183.8 1225.6L186.2 1227.1L188.6 1228.0L191.8 1229.0L194.4 1229.3L196.1 1229.1L198.1 1228.6L207.3 1224.7L214.6 1222.5L218.5 1221.6L221.3 1221.2L225.2 1221.0L240.8 1220.7L242.8 1181.1L244.5 1164.3L246.4 1151.0L249.2 1137.5L250.3 1133.6L254.2 1121.6L256.8 1109.2L259.3 1103.4L260.4 1101.9L261.3 1101.4L262.4 1101.5L263.6 1102.2L266.0 1103.8L269.7 1106.6L273.3 1108.1L275.9 1108.6L428.7 1108.6L430.7 1110.6L432.6 1113.7L435.4 1119.6L436.9 1123.8L440.8 1138.4L445.8 1163.3L449.0 1177.9L451.2 1186.4L452.7 1191.3L454.6 1196.6L462.8 1216.3L464.5 1220.0L465.8 1222.2L467.3 1223.9L469.2 1225.6L471.2 1226.9L473.3 1227.8L476.8 1228.9L479.6 1229.3L481.3 1229.2L483.2 1228.7L492.7 1224.7L500.0 1222.5L503.9 1221.6L506.7 1221.2L510.6 1221.0L526.2 1220.7L528.2 1181.1L529.7 1166.1L531.6 1152.3L532.9 1145.3L534.6 1137.5L535.7 1133.6L539.6 1121.6L542.2 1109.2L544.3 1104.2L545.2 1102.7L546.0 1101.7L546.9 1101.4L548.2 1101.7L551.4 1103.8L555.1 1106.6L558.5 1108.0L560.9 1108.6L617.0 1108.6" fill="none" stroke="#3030b8" stroke-width="1.6" stroke-linejoin="round"/>
<path d="M62.3 1108.6L143.3 1108.6L143.8 1109.0L145.9 1111.8L148.3 1116.3L150.2 1120.8L152.2 1126.8L155.4 1139.7L159.5 1161.7L163.6 1180.3L166.0 1189.0L169.4 1198.3L177.8 1217.5L179.3 1220.5L180.6 1222.5L183.4 1225.2L186.4 1227.2L190.9 1228.8L194.4 1229.3L199.3 1228.9L209.0 1226.9L213.1 1226.3L228.0 1225.6L240.8 1225.3L241.9 1198.0L242.8 1181.3L244.3 1165.9L246.2 1152.3L247.9 1143.4L250.3 1132.9L252.0 1126.8L256.8 1111.4L257.4 1109.7L258.0 1108.6L260.0 1106.8L261.5 1105.9L262.4 1105.8L263.4 1105.9L267.3 1107.1L271.0 1107.9L273.8 1108.4L276.1 1108.6L428.7 1108.6L430.7 1110.8L433.1 1115.0L435.4 1120.3L437.4 1126.1L440.6 1138.7L445.1 1162.7L449.0 1180.3L451.4 1189.0L454.8 1198.3L463.2 1217.5L464.7 1220.5L466.0 1222.5L468.8 1225.2L471.6 1227.1L476.1 1228.7L479.6 1229.3L484.8 1228.9L494.4 1226.9L498.5 1226.3L513.4 1225.6L526.2 1225.3L527.3 1198.0L528.2 1181.3L529.4 1167.8L531.2 1154.9L533.8 1141.4L536.8 1129.0L542.4 1110.8L543.2 1108.9L544.7 1107.3L546.2 1106.2L547.8 1105.8L549.3 1106.0L552.7 1107.1L556.6 1107.9L561.1 1108.6L617.0 1108.6" fill="none" stroke="#3838b0" stroke-width="1.6" stroke-dasharray="2.6 1" stroke-linejoin="round"/>
<path d="M62.3 1108.6L143.3 1108.6L144.4 1109.7L145.5 1111.2L147.9 1115.9L150.0 1121.1L152.0 1127.5L155.0 1140.4L158.6 1161.3L161.9 1177.6L163.2 1183.4L164.5 1187.9L166.8 1192.8L169.4 1196.6L170.7 1197.9L173.1 1199.9L174.1 1200.5L175.2 1200.6L176.7 1199.9L178.2 1198.4L180.0 1195.8L181.9 1192.0L183.2 1187.6L184.7 1179.1L187.5 1159.0L189.2 1141.7L190.5 1122.6L191.9 1092.8L194.0 1271.0L228.3 1271.0L229.6 1207.4L230.7 1139.7L231.6 1103.2L232.4 1081.6L233.1 1071.8L233.7 1066.8L233.9 1066.8L234.1 1067.9L234.8 1075.6L236.1 1095.3L238.0 1130.2L240.4 1165.9L241.0 1173.3L241.9 1180.3L242.8 1185.9L243.5 1189.0L245.2 1169.3L246.7 1154.9L249.1 1137.5L250.8 1127.8L251.5 1125.3L253.0 1120.7L254.3 1117.5L255.4 1115.5L256.2 1114.3L257.5 1113.2L259.4 1111.9L261.4 1110.9L263.8 1110.0L267.0 1109.4L271.7 1108.8L275.8 1108.6L428.7 1108.6L429.8 1109.7L430.9 1111.2L433.3 1115.9L435.4 1121.1L437.4 1127.5L440.4 1140.4L444.0 1161.3L447.3 1177.6L448.6 1183.4L449.9 1187.9L452.4 1193.2L453.7 1195.2L455.2 1197.1L458.9 1200.2L460.2 1200.6L461.3 1200.4L462.6 1199.6L464.1 1197.8L465.8 1195.0L467.5 1191.5L468.8 1186.6L470.5 1176.3L473.1 1157.2L474.8 1139.1L475.9 1122.6L477.3 1092.8L479.4 1271.0L513.7 1271.0L515.0 1207.4L516.1 1139.7L517.0 1103.2L517.8 1081.6L518.5 1071.8L519.1 1066.8L519.3 1066.8L519.5 1067.9L520.2 1075.6L521.5 1095.3L523.4 1130.2L525.8 1165.9L526.4 1173.3L527.3 1180.3L528.2 1185.9L528.9 1189.0L531.9 1156.7L533.6 1143.4L535.2 1133.4L536.4 1126.9L538.0 1121.9L539.9 1117.1L541.0 1115.2L541.8 1114.1L545.1 1111.8L548.3 1110.3L552.4 1109.4L558.2 1108.7L561.7 1108.6L617.0 1108.6" fill="none" stroke="#3ddc3d" stroke-width="1.6" stroke-linejoin="round"/>
<path d="M62.3 1108.6L143.3 1108.6L144.4 1109.7L145.5 1111.2L147.9 1115.9L150.0 1121.1L152.0 1127.5L155.0 1140.4L158.6 1161.3L161.9 1177.6L163.2 1183.4L164.5 1187.9L166.8 1192.8L169.4 1196.6L170.7 1197.9L173.1 1199.9L174.1 1200.5L175.2 1200.6L176.7 1199.9L178.2 1198.4L180.0 1195.8L181.9 1192.0L183.2 1187.6L184.7 1179.1L187.5 1159.0L189.2 1141.7L190.5 1122.6L191.9 1092.8L194.0 1271.0L228.3 1271.0L229.6 1207.4L230.7 1139.7L231.6 1103.2L232.4 1081.6L233.1 1071.8L233.7 1066.8L233.9 1066.8L234.1 1067.9L234.8 1075.6L236.1 1095.3L238.0 1130.2L240.4 1165.9L241.0 1173.3L241.9 1180.3L242.8 1185.9L243.5 1189.0L245.2 1169.3L246.7 1154.9L249.1 1137.5L250.8 1127.8L251.5 1125.3L253.0 1120.7L254.3 1117.5L255.4 1115.5L256.2 1114.3L257.5 1113.2L259.4 1111.9L261.4 1110.9L263.8 1110.0L267.0 1109.4L271.7 1108.8L275.8 1108.6L428.7 1108.6L429.8 1109.7L430.9 1111.2L433.3 1115.9L435.4 1121.1L437.4 1127.5L440.4 1140.4L444.0 1161.3L447.3 1177.6L448.6 1183.4L449.9 1187.9L452.4 1193.2L453.7 1195.2L455.2 1197.1L458.9 1200.2L460.2 1200.6L461.3 1200.4L462.6 1199.6L464.1 1197.8L465.8 1195.0L467.5 1191.5L468.8 1186.6L470.5 1176.3L473.1 1157.2L474.8 1139.1L475.9 1122.6L477.3 1092.8L479.4 1271.0L513.7 1271.0L515.0 1207.4L516.1 1139.7L517.0 1103.2L517.8 1081.6L518.5 1071.8L519.1 1066.8L519.3 1066.8L519.5 1067.9L520.2 1075.6L521.5 1095.3L523.4 1130.2L525.8 1165.9L526.4 1173.3L527.3 1180.3L528.2 1185.9L528.9 1189.0L531.9 1156.7L533.6 1143.4L535.2 1133.4L536.4 1126.9L538.0 1121.9L539.9 1117.1L541.0 1115.2L541.8 1114.1L545.1 1111.8L548.3 1110.3L552.4 1109.4L558.2 1108.7L561.7 1108.6L617.0 1108.6" fill="none" stroke="#45d845" stroke-width="1.6" stroke-dasharray="2.6 1" stroke-linejoin="round"/>
<path d="M62.3 1108.6L143.3 1108.6L145.3 1118.2L147.0 1131.2L148.9 1142.2L153.5 1164.9L157.6 1182.0L160.1 1190.7L164.0 1201.1L167.0 1207.6L171.3 1214.8L174.8 1219.5L178.0 1222.8L180.4 1224.5L183.2 1226.1L189.4 1229.1L200.6 1233.5L207.5 1235.6L219.8 1237.8L224.3 1238.2L228.4 1238.4L240.8 1238.4L241.7 1205.0L242.8 1187.1L244.0 1171.7L245.6 1159.4L247.7 1146.3L249.9 1135.9L252.0 1128.3L253.5 1124.5L255.5 1120.6L257.2 1117.9L258.9 1115.9L261.1 1114.3L263.6 1112.8L272.5 1109.3L274.6 1108.8L276.4 1108.6L428.7 1108.6L430.7 1118.2L433.3 1136.4L436.9 1155.4L439.7 1168.7L443.6 1184.3L446.8 1194.4L450.7 1204.1L454.2 1210.6L458.9 1217.8L461.1 1220.5L463.0 1222.4L465.6 1224.3L468.8 1226.3L475.9 1229.5L484.5 1232.9L489.7 1234.7L495.1 1236.1L502.6 1237.4L507.8 1238.1L512.8 1238.4L526.2 1238.4L526.9 1210.2L527.3 1200.9L528.8 1178.7L530.5 1162.5L533.3 1145.2L535.9 1133.3L537.2 1128.9L538.5 1125.5L540.4 1121.4L542.4 1118.2L544.5 1115.7L546.5 1114.3L548.4 1113.2L551.2 1111.9L557.0 1109.6L560.7 1108.7L617.0 1108.6" fill="none" stroke="#e02828" stroke-width="1.6" stroke-linejoin="round"/>
<path d="M62.3 1108.6L143.3 1108.6L145.3 1118.2L147.0 1131.2L148.9 1142.2L153.5 1164.9L157.6 1182.0L160.1 1190.7L164.0 1201.1L167.0 1207.6L171.3 1214.8L174.8 1219.5L178.0 1222.8L180.4 1224.5L183.2 1226.1L189.4 1229.1L200.6 1233.5L207.5 1235.6L219.8 1237.8L224.3 1238.2L228.4 1238.4L240.8 1238.4L241.7 1205.0L242.8 1187.1L244.0 1171.7L245.6 1159.4L247.7 1146.3L249.9 1135.9L252.0 1128.3L253.5 1124.5L255.5 1120.6L257.2 1117.9L258.9 1115.9L261.1 1114.3L263.6 1112.8L272.5 1109.3L274.6 1108.8L276.4 1108.6L428.7 1108.6L430.7 1118.2L433.3 1136.4L436.9 1155.4L439.7 1168.7L443.6 1184.3L446.8 1194.4L450.7 1204.1L454.2 1210.6L458.9 1217.8L461.1 1220.5L463.0 1222.4L465.6 1224.3L468.8 1226.3L475.9 1229.5L484.5 1232.9L489.7 1234.7L495.1 1236.1L502.6 1237.4L507.8 1238.1L512.8 1238.4L526.2 1238.4L526.9 1210.2L527.3 1200.9L528.8 1178.7L530.5 1162.5L533.3 1145.2L535.9 1133.3L537.2 1128.9L538.5 1125.5L540.4 1121.4L542.4 1118.2L544.5 1115.7L546.5 1114.3L548.4 1113.2L551.2 1111.9L557.0 1109.6L560.7 1108.7L617.0 1108.6" fill="none" stroke="#dc3434" stroke-width="1.6" stroke-dasharray="2.6 1" stroke-linejoin="round"/>
</g>
<text x="55.5" y="976.6" font-size="20.8" text-anchor="end" font-weight="normal">0.6</text>
<text x="55.5" y="1023.2" font-size="20.8" text-anchor="end" font-weight="normal">0.4</text>
<text x="55.5" y="1069.8" font-size="20.8" text-anchor="end" font-weight="normal">0.2</text>
<text x="55.5" y="1116.4" font-size="20.8" text-anchor="end" font-weight="normal">0</text>
<text x="55.5" y="1163.0" font-size="20.8" text-anchor="end" font-weight="normal">-0.2</text>
<text x="55.5" y="1209.6" font-size="20.8" text-anchor="end" font-weight="normal">-0.4</text>
<text x="55.5" y="1256.2" font-size="20.8" text-anchor="end" font-weight="normal">-0.6</text>
<text x="55.5" y="1302.8" font-size="20.8" text-anchor="end" font-weight="normal">-0.8</text>
<text x="62.3" y="1321.0" font-size="20.8" text-anchor="middle" font-weight="normal">0</text>
<text x="170.0" y="1321.0" font-size="20.8" text-anchor="middle" font-weight="normal">2</text>
<text x="277.7" y="1321.0" font-size="20.8" text-anchor="middle" font-weight="normal">4</text>
<text x="385.4" y="1321.0" font-size="20.8" text-anchor="middle" font-weight="normal">6</text>
<text x="493.1" y="1321.0" font-size="20.8" text-anchor="middle" font-weight="normal">8</text>
<text x="600.8" y="1321.0" font-size="20.8" text-anchor="middle" font-weight="normal">10</text>
<text x="708.5" y="1321.0" font-size="20.8" text-anchor="middle" font-weight="normal">12</text>
<text x="384.8" y="1337.4" font-size="20.8" text-anchor="middle" font-weight="normal">Index</text>
<text x="665.2" y="1354.9" font-size="20.8" text-anchor="start" font-weight="normal">x 10</text>
<text x="701.5" y="1342.0" font-size="14" text-anchor="start" font-weight="normal">4</text>
<text x="21.3" y="1132.7" font-size="20.8" text-anchor="middle" transform="rotate(-90 21.3 1132.7)">Steer[rad]</text>
<text x="386.6" y="1378.0" font-size="20" text-anchor="middle" font-weight="normal">(<tspan font-weight="bold">e</tspan>)</text>
<path d="M153.6 1125.3L560 1085" stroke="#111" stroke-width="1.4" fill="none"/>
<path d="M579.4 1083L557.5 1093.5L561 1084.8L555.8 1076.7Z" fill="#111"/>
<rect x="257.3" y="959.3" width="142.39999999999998" height="124.0" fill="#fff" stroke="#2a2a2a" stroke-width="1.25"/>
<path d="M270 977.6H332.7" fill="none" stroke="#4040b8" stroke-width="1.1" stroke-linejoin="round"/>
<text x="338.6" y="985.4" font-size="20.8" text-anchor="start" font-weight="normal">Pur1</text>
<path d="M270 1006.8H332.7" fill="none" stroke="#a0a4ea" stroke-width="1.0" stroke-dasharray="4.5 3" stroke-linejoin="round"/>
<text x="338.6" y="1014.6" font-size="20.8" text-anchor="start" font-weight="normal">Pur2</text>
<path d="M270 1035.6H332.7" fill="none" stroke="#6a6ad0" stroke-width="1.1" stroke-dasharray="2.5 1" stroke-linejoin="round"/>
<text x="338.6" y="1043.4" font-size="20.8" text-anchor="start" font-weight="normal">Pur3</text>
<path d="M270 1065H332.7" fill="none" stroke="#4cdc4c" stroke-width="1.2" stroke-linejoin="round"/>
<text x="338.6" y="1072.8" font-size="20.8" text-anchor="start" font-weight="normal">SOL1</text>
<rect x="256.6" y="1127.8" width="144.39999999999998" height="153.70000000000005" fill="#fff" stroke="#2a2a2a" stroke-width="1.25"/>
<path d="M269 1145.7H332.7" fill="none" stroke="#b0ecb0" stroke-width="1.0" stroke-dasharray="4.5 3" stroke-linejoin="round"/>
<text x="338.6" y="1153.5" font-size="20.8" text-anchor="start" font-weight="normal">SOL2</text>
<path d="M269 1174.6H332.7" fill="none" stroke="#58d858" stroke-width="1.1" stroke-dasharray="2.5 1" stroke-linejoin="round"/>
<text x="338.6" y="1182.4" font-size="20.8" text-anchor="start" font-weight="normal">SOL3</text>
<path d="M269 1204.4H332.7" fill="none" stroke="#e04444" stroke-width="1.1" stroke-linejoin="round"/>
<text x="338.6" y="1212.2" font-size="20.8" text-anchor="start" font-weight="normal">HFO1</text>
<path d="M269 1233.8H332.7" fill="none" stroke="#f0b4b4" stroke-width="1.0" stroke-dasharray="4.5 3" stroke-linejoin="round"/>
<text x="338.6" y="1241.6" font-size="20.8" text-anchor="start" font-weight="normal">HFO2</text>
<path d="M269 1262.4H332.7" fill="none" stroke="#e04848" stroke-width="1.1" stroke-dasharray="2.5 1" stroke-linejoin="round"/>
<text x="338.6" y="1270.2" font-size="20.8" text-anchor="start" font-weight="normal">HFO3</text>
<clipPath id="cpi"><rect x="579.4" y="958.1" width="183.8" height="104"/></clipPath>
<g clip-path="url(#cpi)">
<path d="M579.4 992.8L590.5 993.3L596.9 994.3L605.3 996.5L615.4 999.7L621.0 1001.7L636.7 1007.9L658.8 1016.3L669.9 1020.9L690.2 1030.0L711.5 1040.5L733.6 1051.0L748.4 1057.0L763.2 1062.1" fill="none" stroke="#7c80dc" stroke-width="0.9" stroke-dasharray="5 2.5" stroke-linejoin="round"/>
<path d="M579.4 992.8L590.5 993.3L596.0 994.2L602.5 996.2L617.3 1001.8L625.6 1005.5L640.4 1012.6L671.8 1028.4L699.5 1042.0L706.9 1045.4L712.4 1047.6L723.5 1051.3L735.5 1054.6L750.3 1058.0L763.2 1060.4" fill="none" stroke="#88e088" stroke-width="1.0" stroke-dasharray="5 2.5" stroke-linejoin="round"/>
<path d="M579.4 992.8L583.1 994.0L587.5 996.5L590.5 999.1L599.4 1008.1L602.3 1010.3L607.5 1013.6L615.6 1018.5L625.2 1024.0L634.1 1028.7L642.9 1033.2L651.1 1036.9L660.7 1041.0L668.8 1044.3L677.7 1047.5L705.0 1056.8L716.1 1060.2L726.4 1063.0" fill="none" stroke="#eba0a0" stroke-width="0.9" stroke-dasharray="5 2.5" stroke-linejoin="round"/>
<path d="M579.4 992.8L591.2 993.4L596.6 994.3L603.8 996.5L619.2 1002.1L637.3 1009.9L655.4 1017.1L663.6 1020.5L675.3 1026.2L706.1 1042.3L713.4 1045.9L723.3 1050.3L759.5 1065.6" fill="none" stroke="#3030b8" stroke-width="1.6" stroke-linejoin="round"/>
<path d="M579.4 992.8L590.3 993.3L593.0 993.6L595.7 994.2L602.0 996.3L617.4 1002.4L664.5 1023.9L676.3 1029.9L707.0 1046.0L716.1 1050.5L735.1 1058.9L759.5 1069.1" fill="none" stroke="#3838b0" stroke-width="1.6" stroke-dasharray="2.6 1" stroke-linejoin="round"/>
<path d="M579.4 992.8L590.5 993.3L596.0 994.2L602.5 996.2L617.3 1001.8L625.6 1005.5L640.4 1012.6L671.8 1028.4L699.5 1042.0L706.9 1045.4L712.4 1047.6L723.5 1051.3L735.5 1054.6L750.3 1058.0L763.2 1060.4" fill="none" stroke="#3ddc3d" stroke-width="1.6" stroke-linejoin="round"/>
<path d="M579.4 992.8L590.5 993.3L595.1 994.1L601.6 996.2L616.3 1002.2L624.7 1005.9L639.4 1013.0L661.6 1024.4L682.8 1035.0L702.2 1044.1L711.5 1048.0L722.6 1051.6L734.6 1054.9L749.3 1058.2L763.2 1060.7" fill="none" stroke="#45d845" stroke-width="1.6" stroke-dasharray="2.6 1" stroke-linejoin="round"/>
<path d="M579.4 992.8L583.1 994.0L587.5 996.5L590.5 999.1L599.4 1008.1L602.3 1010.3L607.5 1013.6L615.6 1018.5L625.2 1024.0L634.1 1028.7L642.9 1033.2L651.1 1036.9L660.7 1041.0L668.8 1044.3L677.7 1047.5L705.0 1056.8L716.1 1060.2L726.4 1063.0" fill="none" stroke="#e02828" stroke-width="1.6" stroke-linejoin="round"/>
<path d="M579.4 992.8L583.1 994.0L587.5 996.5L590.5 999.1L599.4 1008.1L602.3 1010.3L607.5 1013.6L615.6 1018.5L625.2 1024.0L634.1 1028.7L642.9 1033.2L651.1 1036.9L660.7 1041.0L668.8 1044.3L677.7 1047.5L705.0 1056.8L716.1 1060.2L726.4 1063.0" fill="none" stroke="#dc3434" stroke-width="1.6" stroke-dasharray="2.6 1" stroke-linejoin="round"/>
</g>
<path d="M579.4 958.1V1062.1H763.2" fill="none" stroke="#555" stroke-width="1.2"/>
<path d="M579.4 958.1H763.2V1062.1" fill="none" stroke="#555" stroke-width="1.2"/>
<path d="M579.4 958.1h4M763.2 958.1h-4M579.4 992.8h4M763.2 992.8h-4M579.4 1027.5h4M763.2 1027.5h-4M579.4 1062.1h4M763.2 1062.1h-4M616.2 1062.1v-4M616.2 958.1v4M689.7 1062.1v-4M689.7 958.1v4" fill="none" stroke="#555" stroke-width="1.15"/>
<text x="572.3" y="965.9" font-size="20.8" text-anchor="end" font-weight="normal">0.2</text>
<text x="572.3" y="1000.6" font-size="20.8" text-anchor="end" font-weight="normal">0</text>
<text x="572.3" y="1035.3" font-size="20.8" text-anchor="end" font-weight="normal">-0.2</text>
<text x="572.3" y="1069.9" font-size="20.8" text-anchor="end" font-weight="normal">-0.4</text>
<text x="616.2" y="1086.5" font-size="20.8" text-anchor="middle" font-weight="normal">1.6</text>
<text x="689.7" y="1086.5" font-size="20.8" text-anchor="middle" font-weight="normal">1.8</text>
<text x="763.2" y="1086.5" font-size="20.8" text-anchor="middle" font-weight="normal">2</text>
<text x="719.6" y="1121.0" font-size="20.8" text-anchor="start" font-weight="normal">x 10</text>
<text x="755.5" y="1108.0" font-size="14" text-anchor="start" font-weight="normal">4</text>
</svg>
</body></html>
